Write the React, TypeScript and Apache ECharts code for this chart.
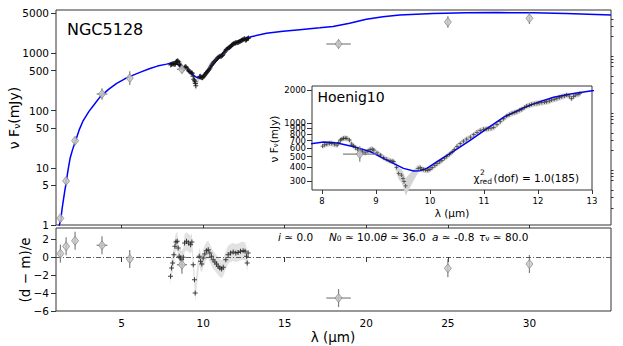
import React, { useEffect, useRef } from 'react';
import * as echarts from 'echarts';

// Photometry (µm, mJy)
const photWave = [1.25, 1.6, 2.15, 3.8, 5.5, 8.7, 18.3, 25.0, 30.0];
const photFlux = [1.31, 5.9, 29.8, 195, 371, 528, 1460, 3540, 4110];
const photWaveErr = [0, 0, 0, 0.33, 0, 0.31, 0.75, 0, 0];
const photFluxErrDex = [0.03, 0.05, 0.065, 0.1, 0.12, 0.07, 0.08, 0.1, 0.1];
const photResid = [0.37, 1.18, 1.8, 1.3, -0.22, -0.86, -4.56, -1.26, -0.78];

// Model SED
const modelWave = [1.10, 1.18, 1.27, 1.35, 1.43, 1.52, 1.60, 1.70, 1.84, 2.00, 2.15, 2.40, 2.65, 3.00, 3.30, 3.67, 4.20, 4.70, 5.20, 5.71, 6.20, 6.74, 7.20, 7.76, 8.03, 8.28, 8.59, 8.90, 9.20, 9.51, 9.70, 9.82, 9.94, 10.13, 10.44, 10.75, 11.06, 11.36, 11.67, 11.98, 12.29, 12.60, 13.00, 13.88, 14.90, 15.92, 17.15, 17.96, 18.98, 20.0, 21.02, 22.05, 24.09, 26.13, 28.0, 30.21, 32.25, 35.0];
const modelFlux = [0.75, 1.0, 1.2, 1.9, 2.7, 4.0, 5.4, 8.5, 14.5, 21, 28, 46, 67, 97, 125, 172, 235, 300, 360, 418, 475, 545, 600, 650, 678, 665, 616, 554, 466, 392, 371, 374, 392, 450, 562, 707, 901, 1133, 1339, 1538, 1718, 1840, 1973, 2245, 2450, 2600, 2800, 2960, 3360, 3945, 4385, 4690, 5010, 5140, 5170, 5140, 5010, 4690];

// Hoenig10 spectrum
const specWave = [8.01, 8.05, 8.09, 8.14, 8.18, 8.23, 8.28, 8.31, 8.34, 8.37, 8.40, 8.43, 8.46, 8.51, 8.55, 8.58, 8.62, 8.66, 8.71, 8.75, 8.80, 8.85, 8.89, 8.93, 8.96, 9.02, 9.08, 9.14, 9.20, 9.26, 9.30, 9.33, 9.38, 9.42, 9.47, 9.50, 9.52, 9.55, 9.78, 9.82, 9.85, 9.88, 9.92, 9.96, 10.00, 10.04, 10.09, 10.13, 10.18, 10.22, 10.27, 10.31, 10.36, 10.41, 10.45, 10.50, 10.56, 10.62, 10.68, 10.75, 10.81, 10.87, 10.93, 10.99, 11.04, 11.08, 11.13, 11.18, 11.24, 11.30, 11.36, 11.42, 11.47, 11.52, 11.57, 11.61, 11.66, 11.70, 11.75, 11.79, 11.84, 11.88, 11.93, 11.98, 12.02, 12.07, 12.12, 12.16, 12.21, 12.25, 12.30, 12.35, 12.40, 12.44, 12.49, 12.53, 12.58, 12.62, 12.66, 12.69, 12.74, 12.78];
const specFlux = [624, 640, 650, 662, 659, 648, 637, 672, 707, 722, 732, 735, 732, 707, 650, 628, 603, 585, 563, 552, 541, 562, 580, 585, 574, 541, 518, 490, 473, 460, 455, 451, 400, 353, 341, 318, 297, 272, 392, 398, 385, 382, 378, 377, 385, 398, 415, 432, 448, 463, 485, 503, 525, 551, 580, 620, 655, 690, 720, 750, 790, 830, 860, 883, 890, 895, 905, 920, 975, 1035, 1100, 1165, 1200, 1231, 1255, 1274, 1310, 1337, 1390, 1432, 1460, 1483, 1500, 1514, 1530, 1546, 1556, 1567, 1595, 1622, 1650, 1679, 1710, 1738, 1770, 1799, 1760, 1679, 1750, 1799, 1830, 1862];
const specErrFrac = [0.06, 0.06, 0.06, 0.06, 0.06, 0.06, 0.06, 0.06, 0.06, 0.06, 0.06, 0.06, 0.06, 0.06, 0.06, 0.06, 0.06, 0.06, 0.06, 0.06, 0.06, 0.06, 0.06, 0.06, 0.06, 0.06, 0.06, 0.06, 0.06, 0.06, 0.06, 0.06, 0.1, 0.12, 0.14, 0.15, 0.16, 0.18, 0.08, 0.06, 0.06, 0.06, 0.06, 0.06, 0.06, 0.06, 0.06, 0.06, 0.06, 0.06, 0.06, 0.06, 0.06, 0.06, 0.06, 0.06, 0.06, 0.06, 0.06, 0.06, 0.06, 0.06, 0.06, 0.06, 0.06, 0.06, 0.06, 0.06, 0.06, 0.06, 0.06, 0.06, 0.06, 0.06, 0.06, 0.06, 0.06, 0.06, 0.06, 0.06, 0.06, 0.06, 0.06, 0.06, 0.06, 0.06, 0.06, 0.06, 0.06, 0.06, 0.06, 0.06, 0.06, 0.06, 0.06, 0.06, 0.06, 0.06, 0.06, 0.06, 0.06, 0.06];

// Spectrum residuals (d - m)/e
const resWave = [8.00, 8.06, 8.13, 8.21, 8.27, 8.33, 8.41, 8.47, 8.53, 8.62, 8.68, 8.78, 8.86, 8.98, 9.11, 9.23, 9.31, 9.39, 9.47, 9.51, 9.76, 9.84, 9.92, 10.0, 10.1, 10.2, 10.31, 10.41, 10.51, 10.61, 10.72, 10.82, 10.92, 11.02, 11.13, 11.23, 11.39, 11.53, 11.68, 11.84, 12.0, 12.14, 12.29, 12.45, 12.57, 12.66, 12.70, 12.76];
const resVal = [-2.15, -1.22, -0.67, 0.26, 1.18, 1.66, 1.74, 1.0, 0.07, -0.11, -0.3, -0.04, 1.55, 1.74, 1.55, 1.37, 1.66, -0.85, -2.52, -4.0, 0.07, -0.48, -0.78, -0.11, 0.33, 0.7, 0.81, 0.44, 0.07, -0.3, -0.56, -0.78, -1.04, -1.22, -1.33, -1.15, -0.3, 0.26, 0.44, 0.55, 0.44, 0.51, 0.63, 0.7, 0.63, 0.07, -0.67, 0.44];

// Ticks
const xTicks = [5, 10, 15, 20, 25, 30];
const mainYMajor = [1, 5, 10, 50, 100, 500, 1000, 5000];
const mainYMinor = [2, 3, 4, 6, 7, 8, 9, 20, 30, 40, 60, 70, 80, 90, 200, 300, 400, 600, 700, 800, 900, 2000, 3000, 4000];
const insetXTicks = [8, 9, 10, 11, 12, 13];
const insetYTicks = [300, 400, 500, 600, 700, 800, 900, 1000, 2000];
const residYTicks = [-6, -4, -2, 0, 2];

const FONT = 'DejaVu Sans';
const L = (v: number) => Math.log10(v);

const errRender = (params: any, api: any) => {
  const x = api.value(0), y = api.value(1);
  const c = api.coord([x, y]);
  const lo = api.coord([x, api.value(2)]);
  const hi = api.coord([x, api.value(3)]);
  const l = api.coord([api.value(4), y]);
  const r = api.coord([api.value(5), y]);
  const style = { stroke: '#808080', lineWidth: 1.2 };
  return {
    type: 'group',
    children: [
      { type: 'line', shape: { x1: c[0], y1: lo[1], x2: c[0], y2: hi[1] }, style },
      { type: 'line', shape: { x1: l[0], y1: c[1], x2: r[0], y2: c[1] }, style },
    ],
  };
};

const bandRender = (xs: number[], lo: number[], hi: number[], color: string) => (params: any, api: any) => {
  if (params.dataIndex !== 0) return null;
  const pts: number[][] = [];
  for (let i = 0; i < xs.length; i++) pts.push(api.coord([xs[i], hi[i]]));
  for (let i = xs.length - 1; i >= 0; i--) pts.push(api.coord([xs[i], lo[i]]));
  return { type: 'polygon', shape: { points: pts }, style: { fill: color } };
};

const PLUS = 'path://M4,0H6V10H4Z M0,4H10V6H0Z';

export default function App() {
  const ref = useRef<HTMLDivElement>(null);
  useEffect(() => {
    const chart = echarts.init(ref.current!, null, { renderer: 'svg' });

    const modelData = modelWave.map((w, i) => [w, L(modelFlux[i])]);
    const specData = specWave.map((w, i) => [w, L(specFlux[i])]);
    const specHi = specFlux.map((f, i) => L(f * (1 + specErrFrac[i])));
    const specLo = specFlux.map((f, i) => L(f * (1 - specErrFrac[i])));
    const photData = photWave.map((w, i) => [w, L(photFlux[i])]);
    const photErr = photWave.map((w, i) => [w, L(photFlux[i]), L(photFlux[i]) - photFluxErrDex[i], L(photFlux[i]) + photFluxErrDex[i], w - photWaveErr[i], w + photWaveErr[i]]);
    const inInset = (w: number) => w > 7.82 && w < 13;
    const insetPhotData = photData.filter((d) => inInset(d[0]));
    const insetPhotErr = photErr.filter((d) => inInset(d[0]));
    const resData = resWave.map((w, i) => [w, resVal[i]]);
    const resHi = resVal.map((v) => v + 1);
    const resLo = resVal.map((v) => v - 1);
    const resPhotData = photWave.map((w, i) => [w, photResid[i]]);
    const resPhotErr = photWave.map((w, i) => [w, photResid[i], photResid[i] - 1, photResid[i] + 1, w - photWaveErr[i], w + photWaveErr[i]]);

    const gridBox = { show: true, borderColor: '#333', borderWidth: 1, backgroundColor: '#fff', containLabel: false };
    const tickStyle = { color: '#333', width: 1 };
    const labelBase = { color: '#000', fontFamily: FONT };
    const paramRich = {
      i: { fontStyle: 'italic', fontFamily: FONT, fontSize: 10.5 },
      s: { fontFamily: FONT, fontSize: 7.5, verticalAlign: 'bottom', padding: [4, 0, 0, 0] },
    };
    const paramStyle = (text: string) => ({ text, fontFamily: FONT, fontSize: 10.5, fill: '#000', verticalAlign: 'middle', rich: paramRich });

    const option: any = {
      animation: false,
      textStyle: { fontFamily: FONT },
      grid: [
        { ...gridBox, left: 56, top: 10, width: 555, height: 215 },
        { ...gridBox, left: 312, top: 86, width: 280, height: 104, z: 5 },
        { ...gridBox, left: 56, top: 228, width: 555, height: 83 },
      ],
      xAxis: [
        {
          gridIndex: 0, type: 'value', min: 0.98, max: 35,
          axisLine: { show: false }, splitLine: { show: false },
          axisTick: { show: true, length: 3, lineStyle: tickStyle, customValues: xTicks },
          axisLabel: { show: false },
        },
        {
          gridIndex: 1, type: 'value', min: 7.815, max: 13,
          axisLine: { show: false }, splitLine: { show: false },
          axisTick: { show: true, length: 4, lineStyle: tickStyle, customValues: insetXTicks },
          axisLabel: { ...labelBase, fontSize: 8.5, margin: 6, customValues: insetXTicks },
        },
        {
          gridIndex: 2, type: 'value', min: 0.98, max: 35,
          axisLine: { show: false }, splitLine: { show: false },
          axisTick: { show: true, length: 5, lineStyle: tickStyle, customValues: xTicks },
          axisLabel: { ...labelBase, fontSize: 10.5, margin: 6, customValues: xTicks },
        },
      ],
      yAxis: [
        {
          gridIndex: 0, type: 'value', min: 0, max: L(5740),
          axisLine: { show: false }, splitLine: { show: false },
          axisTick: { show: true, length: 5, lineStyle: tickStyle, customValues: mainYMajor.map(L) },
          axisLabel: {
            ...labelBase, fontSize: 10.5, margin: 7, customValues: mainYMajor.map(L),
            formatter: (v: number) => String(Math.round(Math.pow(10, v))),
          },
        },
        {
          gridIndex: 0, type: 'value', min: 0, max: L(5740),
          axisLine: { show: false }, splitLine: { show: false },
          axisTick: { show: true, length: 2.5, lineStyle: tickStyle, customValues: mainYMinor.map(L) },
          axisLabel: { show: false },
        },
        {
          gridIndex: 1, type: 'value', min: L(250), max: L(2175),
          axisLine: { show: false }, splitLine: { show: false },
          axisTick: { show: true, length: 5, lineStyle: tickStyle, customValues: insetYTicks.map(L) },
          axisLabel: {
            ...labelBase, fontSize: 8.5, margin: 6, customValues: insetYTicks.map(L),
            formatter: (v: number) => String(Math.round(Math.pow(10, v))),
          },
        },
        {
          gridIndex: 2, type: 'value', min: -6, max: 3.22,
          axisLine: { show: false }, splitLine: { show: false },
          axisTick: { show: true, length: 5, lineStyle: tickStyle, customValues: residYTicks },
          axisLabel: {
            ...labelBase, fontSize: 10.5, margin: 7, customValues: residYTicks,
            formatter: (v: number) => String(v).replace('-', '\u2212'),
          },
        },
      ],
      series: [
        // main panel
        { type: 'custom', xAxisIndex: 0, yAxisIndex: 0, data: [[specWave[0], specLo[0]]], renderItem: bandRender(specWave, specLo, specHi, '#d4d4d4'), z: 1, silent: true },
        { type: 'line', xAxisIndex: 0, yAxisIndex: 0, data: modelData, showSymbol: false, symbol: 'none', clip: true, lineStyle: { color: '#0000ff', width: 1.5 }, z: 2 },
        { type: 'scatter', xAxisIndex: 0, yAxisIndex: 0, data: specData, symbol: PLUS, symbolSize: 5, itemStyle: { color: '#111' }, z: 3 },
        { type: 'custom', xAxisIndex: 0, yAxisIndex: 0, data: photErr, encode: { x: 0, y: 1 }, renderItem: errRender, z: 4 },
        { type: 'scatter', xAxisIndex: 0, yAxisIndex: 0, data: photData, symbol: 'diamond', symbolSize: [7, 9], itemStyle: { color: '#c8c8c8', borderColor: '#7a7a7a', borderWidth: 0.8 }, z: 5 },
        // inset
        { type: 'custom', xAxisIndex: 1, yAxisIndex: 2, data: [[specWave[0], specLo[0]]], renderItem: bandRender(specWave, specLo, specHi, '#d4d4d4'), z: 6, silent: true },
        { type: 'line', xAxisIndex: 1, yAxisIndex: 2, data: modelData, showSymbol: false, symbol: 'none', clip: true, lineStyle: { color: '#0000ff', width: 1.5 }, z: 7 },
        { type: 'scatter', xAxisIndex: 1, yAxisIndex: 2, data: specData, symbol: PLUS, symbolSize: 4, itemStyle: { color: '#222' }, z: 8 },
        { type: 'custom', xAxisIndex: 1, yAxisIndex: 2, data: insetPhotErr, encode: { x: 0, y: 1 }, renderItem: errRender, z: 9 },
        { type: 'scatter', xAxisIndex: 1, yAxisIndex: 2, data: insetPhotData, symbol: 'diamond', symbolSize: [7, 9], itemStyle: { color: '#c8c8c8', borderColor: '#7a7a7a', borderWidth: 0.8 }, z: 10 },
        // residuals
        { type: 'custom', xAxisIndex: 2, yAxisIndex: 3, data: [[resWave[0], resLo[0]]], renderItem: bandRender(resWave, resLo, resHi, '#e2e2e2'), z: 1, silent: true },
        {
          type: 'scatter', xAxisIndex: 2, yAxisIndex: 3, data: resData, symbol: PLUS, symbolSize: 5, itemStyle: { color: '#111' }, z: 3,
          markLine: { silent: true, symbol: 'none', label: { show: false }, data: [{ yAxis: 0 }], lineStyle: { color: '#333', width: 0.8, type: [5, 2, 1, 2] } },
        },
        { type: 'custom', xAxisIndex: 2, yAxisIndex: 3, data: resPhotErr, encode: { x: 0, y: 1 }, renderItem: errRender, z: 4 },
        { type: 'scatter', xAxisIndex: 2, yAxisIndex: 3, data: resPhotData, symbol: 'diamond', symbolSize: [7, 9], itemStyle: { color: '#c8c8c8', borderColor: '#7a7a7a', borderWidth: 0.8 }, z: 5 },
      ],
      graphic: [
        { type: 'text', x: 67, y: 29, style: { text: 'NGC5128', fontFamily: FONT, fontSize: 16, fill: '#000', align: 'left', verticalAlign: 'middle' } },
        { type: 'text', x: 317.5, y: 97, z: 20, style: { text: 'Hoenig10', fontFamily: FONT, fontSize: 14, fill: '#000', align: 'left', verticalAlign: 'middle' } },
        { type: 'text', x: 579, y: 177.5, z: 20, style: { text: '(dof) = 1.0(185)', fontFamily: FONT, fontSize: 10.5, fill: '#000', align: 'right', verticalAlign: 'middle' } },
        { type: 'text', x: 492, y: 181, z: 20, style: { text: 'red', fontFamily: FONT, fontSize: 7.5, fill: '#000', align: 'right', verticalAlign: 'middle' } },
        { type: 'text', x: 480, y: 172.5, z: 20, style: { text: '2', fontFamily: FONT, fontSize: 7.5, fill: '#000', align: 'left', verticalAlign: 'middle' } },
        { type: 'text', x: 479.5, y: 177.5, z: 20, style: { text: 'χ', fontFamily: FONT, fontSize: 10.5, fill: '#000', align: 'right', verticalAlign: 'middle' } },
        // parameters
        { type: 'text', x: 278, y: 236.5, z: 20, style: paramStyle('{i|i} ≃ 0.0') },
        { type: 'text', x: 329, y: 236.5, z: 20, style: paramStyle('{i|N}{s|0} ≃ 10.0{i|θ} ≃ 36.0') },
        { type: 'text', x: 432, y: 236.5, z: 20, style: paramStyle('{i|a} ≃ -0.8') },
        { type: 'text', x: 479, y: 236.5, z: 20, style: paramStyle('{i|τ}{s|ν} ≃ 80.0') },
        // axis titles
        { type: 'text', x: 14, y: 118, rotation: Math.PI / 2, style: { text: 'ν F{s|ν}(mJy)', fontFamily: FONT, fontSize: 14, fill: '#000', align: 'center', verticalAlign: 'middle', rich: { s: { fontFamily: FONT, fontSize: 9, verticalAlign: 'bottom', padding: [5, 0, 0, 0] } } } },
        { type: 'text', x: 25, y: 270, rotation: Math.PI / 2, style: { text: '(d − m)/e', fontFamily: FONT, fontSize: 13.5, fill: '#000', align: 'center', verticalAlign: 'middle' } },
        { type: 'text', x: 333, y: 337, style: { text: 'λ (µm)', fontFamily: FONT, fontSize: 13.5, fill: '#000', align: 'center', verticalAlign: 'middle' } },
        { type: 'text', x: 452, y: 213, z: 20, style: { text: 'λ (µm)', fontFamily: FONT, fontSize: 10.5, fill: '#000', align: 'center', verticalAlign: 'middle' } },
        { type: 'text', x: 274, y: 139, z: 20, rotation: Math.PI / 2, style: { text: 'ν F{s|ν}(mJy)', fontFamily: FONT, fontSize: 10.5, fill: '#000', align: 'center', verticalAlign: 'middle', rich: { s: { fontFamily: FONT, fontSize: 7, verticalAlign: 'bottom', padding: [4, 0, 0, 0] } } } },
      ],
    };

    chart.setOption(option);
    return () => chart.dispose();
  }, []);
  return <div ref={ref} style={{ width: 623, height: 346, position: 'absolute', left: 0, top: 0 }} />;
}
